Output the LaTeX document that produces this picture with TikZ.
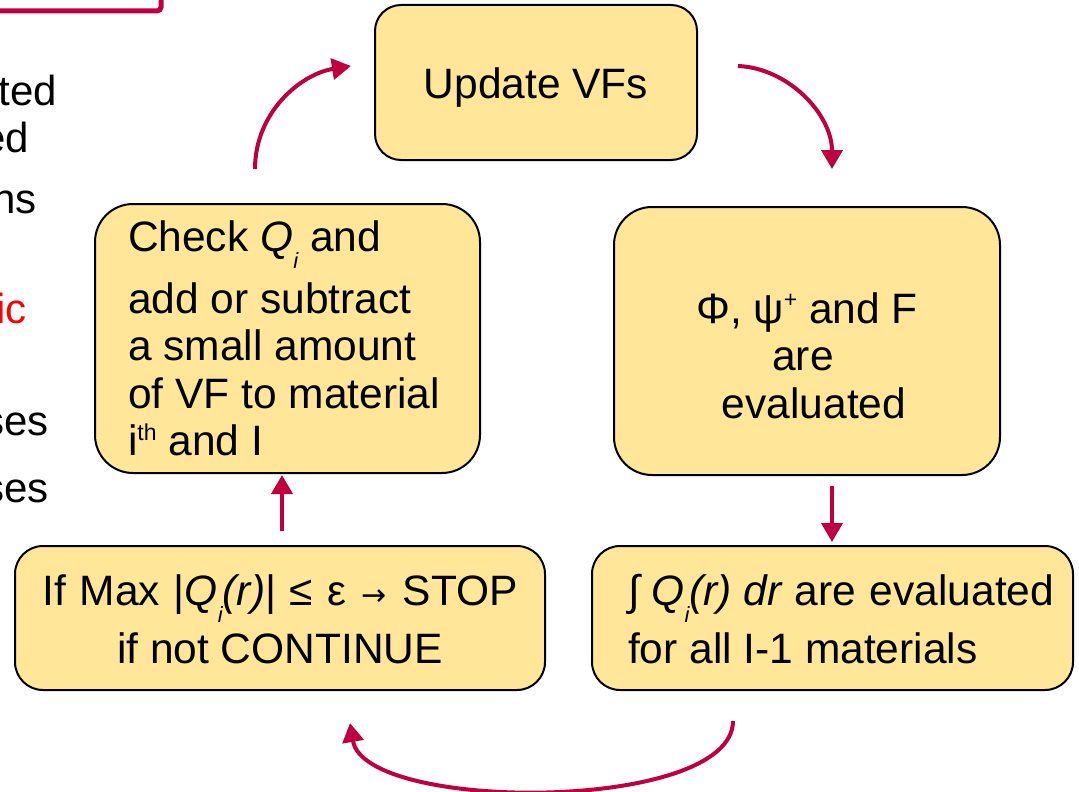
\documentclass[tikz,border=0pt]{standalone}
\usepackage{fontspec}
\setmainfont{Liberation Sans}
\newfontfamily\arrowfont{DejaVu Sans}
\usetikzlibrary{arrows.meta}
\definecolor{boxfill}{RGB}{255,230,153}
\definecolor{arrowred}{RGB}{192,0,62}
\definecolor{sidered}{RGB}{255,0,0}
\newcommand\mysubi{\raisebox{-17pt}{\fontsize{22}{22}\selectfont\itshape i}}
\newcommand\mysup[2]{\raisebox{#1}{\fontsize{23}{23}\selectfont #2}}
\begin{document}
\begin{tikzpicture}[x=1pt,y=-1pt,
  flowbox/.style={draw=black, line width=2pt, fill=boxfill, rounded corners=#1, inner sep=0pt, text depth=0pt,
    font=\fontsize{42.5}{47.5}\selectfont},
  sidetxt/.style={inner sep=0pt, anchor=base east, font=\fontsize{42}{47.5}\selectfont},
  arr/.style={draw=arrowred, line width=4pt, -{Triangle[length=19pt,width=21pt]}}]
\useasboundingbox (0,0) rectangle (1079,792);

% partial frame of the slide, top left
\draw[draw=arrowred, line width=5pt, rounded corners=4pt] (-10,11) -- (161,11) -- (161,-10);

% clipped text of the slide on the left
\node[sidetxt] (s1) at (57,105) {ted};
\node[sidetxt] (s2) at (29,152) {ed};
\node[sidetxt] (s3) at (37,213) {ns};
\node[sidetxt, text=sidered] (s4) at (27,323) {ic};
\node[sidetxt] (s5) at (49,435) {ses};
\node[sidetxt] (s6) at (49,502) {ses};

% boxes
\node[flowbox=26pt, minimum width=322pt, minimum height=155pt, text height=31pt] (upd) at (536,82.5)
  {\begin{tabular}[b]{@{}c@{}}Update VFs\end{tabular}};

\node[flowbox=38pt, minimum width=386pt, minimum height=268pt, text height=154pt] (phi) at (807,341)
  {\begin{tabular}[b]{@{}c@{}}Φ, ψ\mysup{16pt}{+} and F\\ are\hspace*{8pt}\\ \hspace*{14pt}evaluated\end{tabular}};

\node[flowbox=38pt, minimum width=385pt, minimum height=269pt, text height=234pt] (chk) at (287.5,338.5)
  {\begin{tabular}[b]{@{}p{319pt}@{}}Check \textit{Q}\mysubi{} and\\[14pt] add or subtract\\ a small amount\\ of VF to material\\ i\mysup{15pt}{th} and I\end{tabular}};

\node[flowbox=28pt, minimum width=530pt, minimum height=144pt, text height=91pt] (ifm) at (280,618)
  {\begin{tabular}[b]{@{}c@{}}If\hspace{2pt} Max\hspace{2pt} |\textit{Q}\mysubi\textit{(r)}|\hspace{2pt} ≤\hspace{2pt} ε\hspace{4pt} {\arrowfont\fontsize{30}{30}\selectfont →}\hspace{4pt} STOP\\[11pt] if not CONTINUE\end{tabular}};

\node[flowbox=28pt, minimum width=481pt, minimum height=144pt, text height=91pt] (intq) at (832.5,618)
  {\begin{tabular}[b]{@{}p{409pt}@{}}\mbox{∫ \textit{Q}\mysubi\textit{(r)} \textit{dr} are\hspace{2pt} evaluated}\\[11pt] for all I-1 materials\end{tabular}};

% connectors
\draw[arr] ([xshift=-32.5pt,yshift=34pt]chk.north) .. controls +(0,-57) and +(-50,8) .. ([xshift=-23pt,yshift=16.5pt]upd.west);
\draw[arr] ([xshift=40pt,yshift=16.5pt]upd.east) .. controls +(50,2) and +(0,-55) .. ([xshift=25pt,yshift=37pt]phi.north);
\draw[arr] ([xshift=25pt,yshift=-10pt]phi.south) -- ([xshift=-0.5pt,yshift=3pt]intq.north);
\draw[arr] ([xshift=-99.5pt,yshift=-30pt]intq.south) .. controls +(0,92) and +(15,90) .. ([xshift=70pt,yshift=-32pt]ifm.south);
\draw[arr] ([xshift=2pt,yshift=14pt]ifm.north) -- ([xshift=-5.5pt,yshift=-1pt]chk.south);
\end{tikzpicture}
\end{document}
